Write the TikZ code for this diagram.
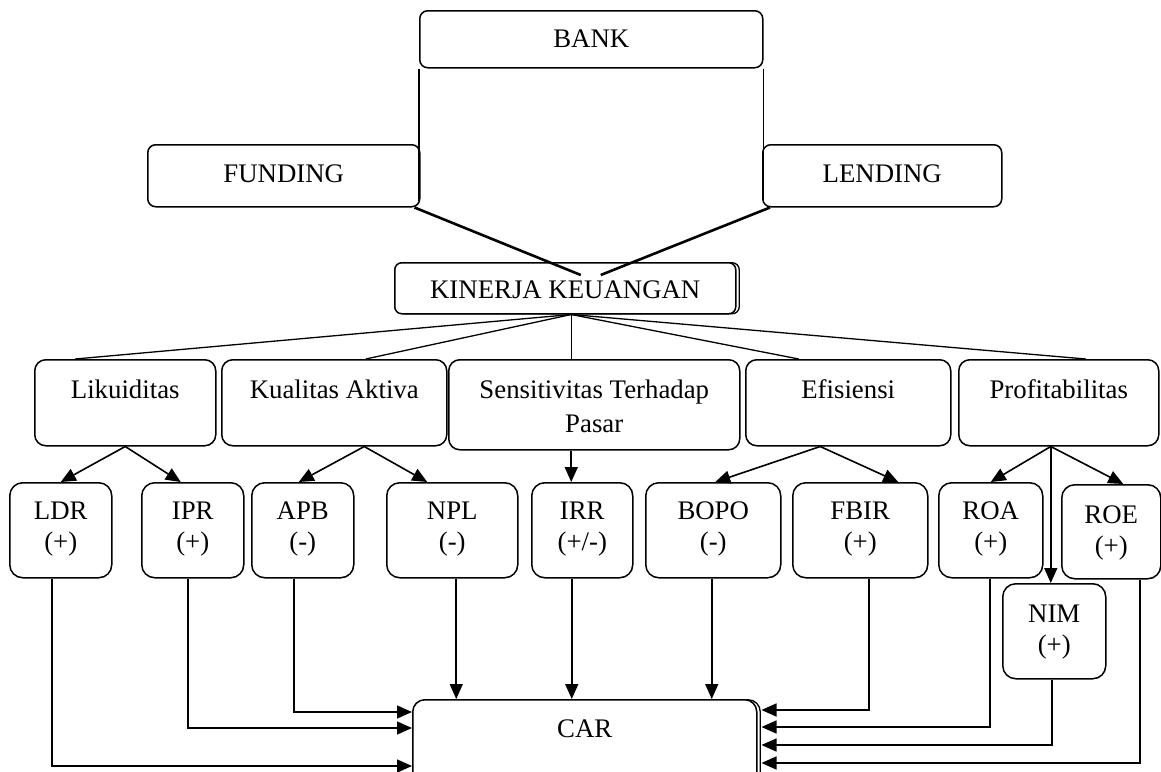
\documentclass[tikz,border=0pt]{standalone}
\usepackage{fontspec}
\setmainfont{Liberation Serif}
\usetikzlibrary{arrows.meta,shadows}
\tikzset{
  bx/.style n args={3}{draw, line width=1.5pt, rounded corners=11pt, fill=white,
    inner sep=0pt, anchor=north west, align=flush center,
    text width=#1, text height=#2, text depth=#3,
    font=\fontsize{26.8pt}{31pt}\selectfont},
  dbl/.style={copy shadow={shadow xshift=3.5pt, shadow yshift=0pt, line width=1.3pt, fill=white}},
  arr/.style={line width=1.6pt, -{Triangle[length=15pt,width=13pt]}},
  thin line/.style={line width=1.3pt},
  thick line/.style={line width=2.6pt}
}
\begin{document}
\begin{tikzpicture}[x=1pt,y=-1pt]
\clip (0,0) rectangle (1161,771);
% top level
\node[bx={343pt}{37pt}{20pt}, rounded corners=8pt] (bank) at (419,10) {BANK};
\node[bx={272pt}{38pt}{24pt}, rounded corners=8pt] (fund) at (147,144) {FUNDING};
\node[bx={239pt}{38pt}{24pt}, rounded corners=8pt] (lend) at (762,144) {LENDING};
\draw[line width=1.8pt] (bank.south west) -- ++(0,132);
\draw[line width=1.8pt] (bank.south east) -- ++(0,132);
\node[bx={341pt}{36pt}{15pt}, rounded corners=7pt, dbl] (kin) at (394,262) {KINERJA KEUANGAN};
\draw[thick line] ([xshift=-6pt]fund.south east) -- ([xshift=15.5pt,yshift=-13pt]kin.north);
\draw[thick line] ([xshift=8pt]lend.south west) -- ([xshift=35.5pt,yshift=-13pt]kin.north);
% categories
\node[bx={181pt}{39pt}{47pt}] (lik) at (34,359) {Likuiditas};
\node[bx={225pt}{39pt}{47pt}] (kual) at (221,359) {Kualitas Aktiva};
\node[bx={291pt}{39pt}{51pt}, font=\fontsize{26.8pt}{34pt}\selectfont] (sens) at (448,359) {Sensitivitas Terhadap\\Pasar};
\node[bx={205pt}{39pt}{47pt}] (efi) at (745,359) {Efisiensi};
\node[bx={200pt}{39pt}{47pt}] (prof) at (958,359) {Profitabilitas};
\coordinate (kb) at ([xshift=6pt]kin.south);
\draw[thin line] (kb) -- ([xshift=-50pt]lik.north);
\draw[thin line] (kb) -- ([xshift=31.5pt]kual.north);
\draw[thin line] (kb) -- ([xshift=-23pt]sens.north);
\draw[thin line] (kb) -- ([xshift=-49.5pt]efi.north);
\draw[thin line] (kb) -- ([xshift=27pt]prof.north);
% ratios
\node[bx={102pt}{37pt}{58pt}, rounded corners=13pt] (ldr) at (9,482) {LDR\\(+)};
\node[bx={102pt}{37pt}{58pt}, rounded corners=13pt] (ipr) at (141,482) {IPR\\(+)};
\node[bx={102pt}{37pt}{58pt}, rounded corners=13pt] (apb) at (251,482) {APB\\(-)};
\node[bx={131pt}{37pt}{58pt}, rounded corners=13pt] (npl) at (386,482) {NPL\\(-)};
\node[bx={101pt}{37pt}{58pt}, rounded corners=13pt] (irr) at (531,482) {IRR\\(+/-)};
\node[bx={135pt}{37pt}{58pt}, rounded corners=13pt] (bopo) at (645,482) {BOPO\\(-)};
\node[bx={135pt}{37pt}{58pt}, rounded corners=13pt] (fbir) at (792,482) {FBIR\\(+)};
\node[bx={104pt}{37pt}{58pt}, rounded corners=13pt] (roa) at (938,482) {ROA\\(+)};
\node[bx={99pt}{39pt}{55pt}, rounded corners=13pt] (roe) at (1061,484) {ROE\\(+)};
\node[bx={103pt}{39pt}{56pt}, rounded corners=13pt] (nim) at (1002,583) {NIM\\(+)};
\draw[arr] (lik.south) -- (ldr.north);
\draw[arr] (lik.south) -- ([xshift=-12pt]ipr.north);
\draw[arr] ([xshift=30pt]kual.south) -- ([xshift=-4pt]apb.north);
\draw[arr] ([xshift=30pt]kual.south) -- ([xshift=-25pt]npl.north);
\draw[arr] ([xshift=-23pt]sens.south) -- ([xshift=-11pt]irr.north);
\draw[arr] ([xshift=-28pt]efi.south) -- ([xshift=2pt]bopo.north);
\draw[arr] ([xshift=-28pt]efi.south) -- ([xshift=38pt]fbir.north);
\draw[arr] ([xshift=-8pt]prof.south) -- (roa.north);
\draw[arr] ([xshift=-8pt]prof.south) -- ([xshift=12pt]roe.north);
\draw[arr] ([xshift=-8pt]prof.south) -- ([xshift=-3.5pt]nim.north);
% CAR
\node[bx={344pt}{38pt}{100pt}, rounded corners=12pt, dbl] (car) at (412,699) {CAR};
\draw[arr] ([xshift=-9pt]ldr.south) |- ([yshift=-67pt]car.north west);
\draw[arr] ([xshift=-5pt]ipr.south) |- ([yshift=-29pt]car.north west);
\draw[arr] ([xshift=-9pt]apb.south) |- ([yshift=-13pt]car.north west);
\coordinate (npls) at ([xshift=4pt]npl.south);
\coordinate (irrs) at ([xshift=-10.5pt]irr.south);
\coordinate (bopos) at ([xshift=-1.5pt]bopo.south);
\draw[arr] (npls) -- (npls |- car.north);
\draw[arr] (irrs) -- (irrs |- car.north);
\draw[arr] (bopos) -- (bopos |- car.north);
\draw[arr] ([xshift=8.5pt]fbir.south) |- ([xshift=4pt,yshift=-11pt]car.north east);
\draw[arr] ([xshift=-1pt]roa.south) |- ([xshift=4pt,yshift=-28pt]car.north east);
\draw[arr] ([xshift=-2.5pt]nim.south) |- ([xshift=4pt,yshift=-46pt]car.north east);
\draw[arr] ([xshift=28.5pt]roe.south) |- ([xshift=4pt,yshift=-64pt]car.north east);
\end{tikzpicture}
\end{document}
